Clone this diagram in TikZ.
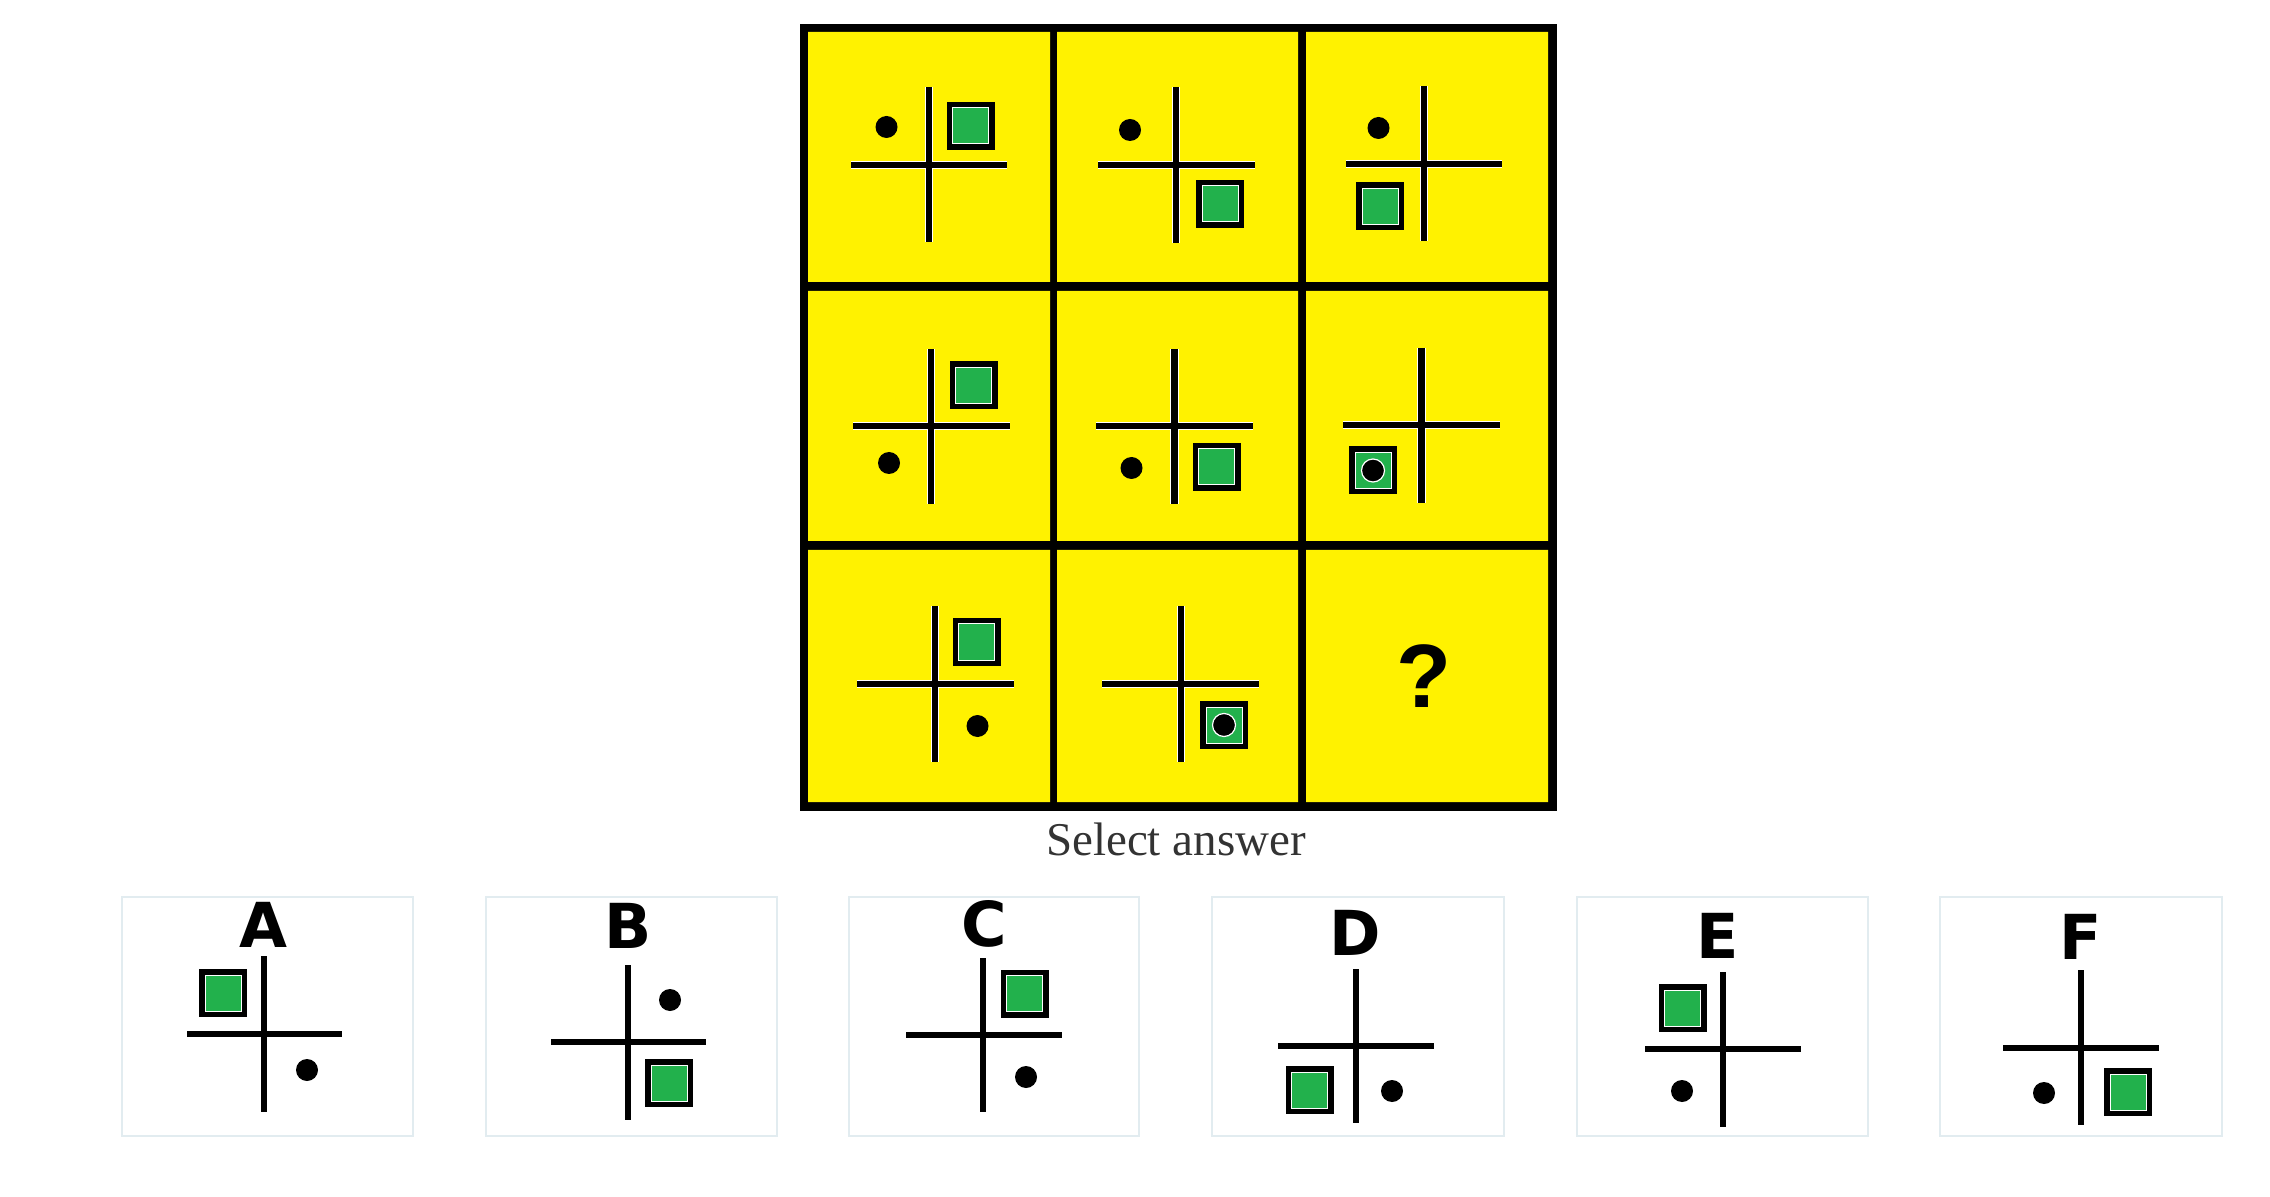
\documentclass[tikz,border=0pt]{standalone}
\usepackage{fontspec}
\setmainfont{Liberation Serif}
\newfontfamily\lblfont{DejaVu Sans}
\newfontfamily\qfont{Liberation Sans}
\definecolor{cellyellow}{HTML}{FFF200}
\definecolor{sqgreen}{HTML}{22B14C}
\definecolor{boxline}{HTML}{E2ECF0}
\definecolor{capgray}{HTML}{333333}

\begin{document}
\begin{tikzpicture}[x=0.5pt,y=-0.5pt,
    crossbar/.style={line width=3.2pt,preaction={draw=white,line width=4.2pt}},
    sq/.style={rectangle,inner sep=0pt,minimum size=18pt,fill=sqgreen,
               draw=white,line width=0.5pt,preaction={draw=black,line width=6pt}},
    blackdot/.style={circle,inner sep=0pt,minimum size=11pt,fill=black},
    ringdot/.style={blackdot,minimum size=11.5pt,draw=white,line width=0.6pt},
    ansbox/.style={draw=boxline,line width=0.75pt},
    lbl/.style={anchor=base,font=\lblfont\bfseries\fontsize{31}{31}\selectfont}]
\useasboundingbox (0,0) rectangle (2270,1197);

% the grid
\fill[black] (800,24) rectangle (1557,811);
\fill[cellyellow]
      ( 808, 32) rectangle (1050,282)
      (1057, 32) rectangle (1298,282)
      (1306, 32) rectangle (1548,282)
      ( 808,291) rectangle (1050,541)
      (1057,291) rectangle (1298,541)
      (1306,291) rectangle (1548,541)
      ( 808,550) rectangle (1050,802)
      (1057,550) rectangle (1298,802)
      (1306,550) rectangle (1548,802);

% row 1
\draw[crossbar] ( 929, 87) -- ++(0,155) ( 851,165) -- ++(156,0);
\node[blackdot] (dot11) at ( 886.5,127) {};
\node[sq]       (sq11)  at ( 970.5,126) {};
\draw[crossbar] (1176, 87) -- ++(0,156) (1098,165) -- ++(157,0);
\node[blackdot] (dot12) at (1130,130) {};
\node[sq]       (sq12)  at (1220,204) {};
\draw[crossbar] (1424, 86) -- ++(0,155) (1346,164) -- ++(156,0);
\node[blackdot] (dot13) at (1378.5,128) {};
\node[sq]       (sq13)  at (1380,206.5) {};

% row 2
\draw[crossbar] ( 931,349) -- ++(0,155) ( 853,426) -- ++(157,0);
\node[sq]       (sq21)  at ( 973.5,385.5) {};
\node[blackdot] (dot21) at ( 889,463) {};
\draw[crossbar] (1174.5,349) -- ++(0,155) (1096,426) -- ++(157,0);
\node[blackdot] (dot22) at (1131.5,468) {};
\node[sq]       (sq22)  at (1216.5,467) {};
\draw[crossbar] (1421.5,348) -- ++(0,155) (1343,425) -- ++(157,0);
\node[sq]       (sq23)  at (1373,470.5) {};
\node[ringdot]  (dot23) at (sq23) {};

% row 3
\draw[crossbar] ( 935,606) -- ++(0,156) ( 857,684) -- ++(157,0);
\node[sq]       (sq31)  at ( 976.5,642) {};
\node[blackdot] (dot31) at ( 977.5,726) {};
\draw[crossbar] (1181,606) -- ++(0,156) (1102,684) -- ++(157,0);
\node[sq]       (sq32)  at (1224,725) {};
\node[ringdot]  (dot32) at (sq32) {};
\node[font=\qfont\bfseries\fontsize{45}{45}\selectfont] (qmark) at (1424,676) {?};

\node[anchor=base,text=capgray,font=\fontsize{23.5}{23.5}\selectfont]
    (select) at (1176,855) {Select answer};

% answers
\draw[ansbox] ( 122,897) rectangle ( 413,1136);
\node[lbl] (lblA) at ( 263.5,947) {A};
\draw[crossbar] ( 264,956) -- ++(0,156) ( 187,1034) -- ++(155,0);
\node[sq]       (sqA)  at ( 223,993) {};
\node[blackdot] (dotA) at ( 307,1070) {};

\draw[ansbox] ( 486,897) rectangle ( 777,1136);
\node[lbl] (lblB) at ( 628.5,948) {B};
\draw[crossbar] ( 628,965) -- ++(0,155) ( 551,1042) -- ++(155,0);
\node[blackdot] (dotB) at ( 670,1000) {};
\node[sq]       (sqB)  at ( 669,1083) {};

\draw[ansbox] ( 849,897) rectangle (1139,1136);
\node[lbl] (lblC) at ( 984,946) {C};
\draw[crossbar] ( 983,958) -- ++(0,154) ( 906,1035) -- ++(156,0);
\node[sq]       (sqC)  at (1024.5,993.5) {};
\node[blackdot] (dotC) at (1026,1077) {};

\draw[ansbox] (1212,897) rectangle (1504,1136);
\node[lbl] (lblD) at (1355,955) {D};
\draw[crossbar] (1356,969) -- ++(0,154) (1278,1046) -- ++(156,0);
\node[sq]       (sqD)  at (1309.5,1090) {};
\node[blackdot] (dotD) at (1392,1091) {};

\draw[ansbox] (1577,897) rectangle (1868,1136);
\node[lbl] (lblE) at (1717.5,958) {E};
\draw[crossbar] (1723,972) -- ++(0,155) (1645,1049) -- ++(156,0);
\node[sq]       (sqE)  at (1682.5,1008) {};
\node[blackdot] (dotE) at (1682,1091) {};

\draw[ansbox] (1940,897) rectangle (2222,1136);
\node[lbl] (lblF) at (2080.5,959) {F};
\draw[crossbar] (2081,970) -- ++(0,155) (2003,1048) -- ++(156,0);
\node[blackdot] (dotF) at (2044,1093) {};
\node[sq]       (sqF)  at (2128,1092) {};
\end{tikzpicture}
\end{document}
